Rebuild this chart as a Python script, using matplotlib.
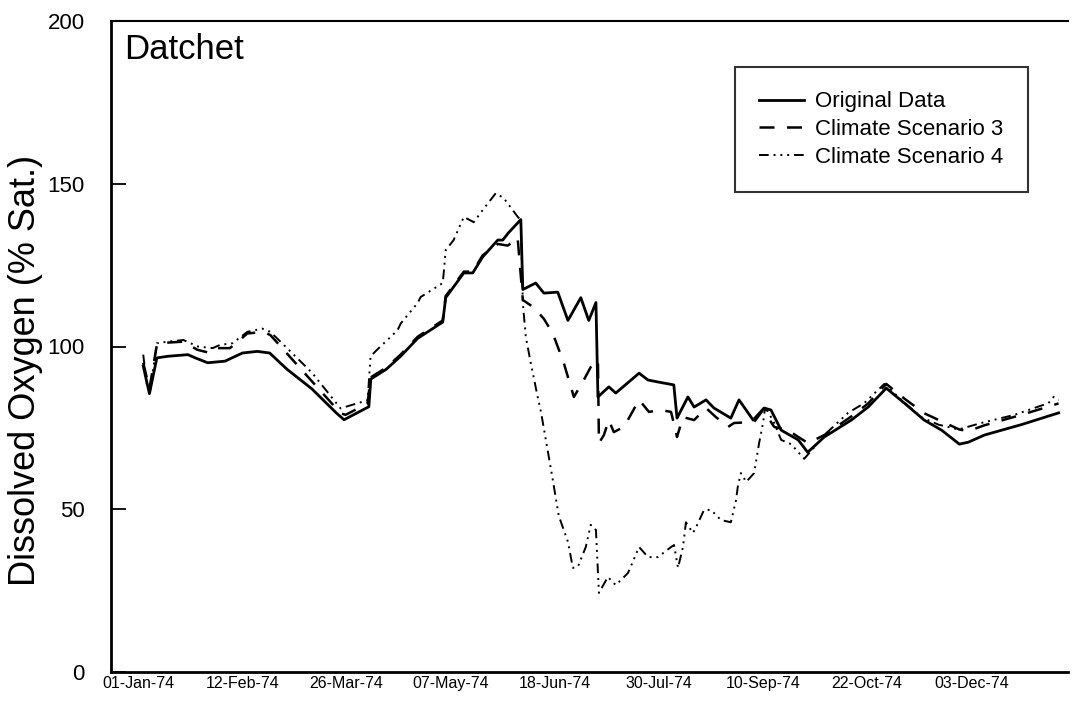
import datetime as dt
import matplotlib
matplotlib.use('Agg')
import matplotlib.pyplot as plt

# Days counted from 01-Jan-74, values in % saturation
orig_days = [2, 4.5, 7.5, 12, 20, 23, 28, 35, 42, 48, 53, 60, 70, 80, 83, 93, 93.8, 100, 105.8,
             112.7, 122.8, 124, 131.3, 134.9, 138.9, 145, 147, 149.4, 154.3, 155.1, 160.3, 163.6,
             169.2, 173.3, 178.5, 181.7, 184.6, 185.4, 189.8, 192.6, 202, 205.6, 209.6, 216, 217.3,
             221.7, 224.2, 229, 232.2, 239, 242.3, 248, 252.4, 255.2, 259.3, 266.2, 270, 276.7,
             287.6, 294.4, 301.7, 309, 317, 324, 331.2, 334.8, 341.3, 356.2, 371.2]
orig_vals = [94, 85.5, 96.5, 97, 97.5, 96.5, 95, 95.5, 98, 98.5, 98, 93, 87, 79.5, 77.5, 81.5, 90,
             93, 97, 102.5, 107.5, 115, 122.6, 122.6, 127.5, 132.7, 132.7, 135, 139, 117.5, 119.5,
             116.4, 116.7, 108, 115, 108, 113.5, 84.5, 87.6, 85.7, 91.8, 89.7, 89.1, 88.2, 78, 84.5,
             81.4, 83.6, 81.1, 78, 83.6, 77.4, 81.1, 80.5, 74.3, 71.3, 67.5, 72.2, 77.4, 81.4, 87.2,
             82.6, 77.4, 74.3, 70, 70.6, 72.8, 76, 79.6]

scen3_days = [2, 4.5, 7.5, 8, 18.2, 23.8, 29, 32, 37, 44, 50.5, 53.3, 81.6, 83.6, 92.5, 93.7, 100,
              105.8, 112.7, 122.8, 124, 131.3, 134.9, 138.9, 145, 149, 151.8, 153, 155.1, 159.5,
              163.6, 167.2, 171.6, 175.7, 179.7, 182.5, 185.4, 185.8, 187.8, 189.8, 191.8, 195.9,
              202, 206, 210.8, 214.9, 217.3, 219.7, 224.2, 229, 233, 237.9, 240.3, 248.4, 252,
              256.5, 262.1, 266.2, 270.2, 276.7, 287.6, 294.4, 301.7, 309, 317, 324, 331.2, 334.8,
              341.3, 356.2, 371.2]
scen3_vals = [95, 87, 100.5, 101, 101.5, 99, 98, 99.5, 99.5, 104, 104.5, 103.5, 79.5, 79, 82.5,
              90.5, 93.5, 97.5, 103, 108, 115.5, 123, 123, 128, 131.5, 131, 132.5, 133.5, 114.3,
              112, 108.5, 104, 95, 84.5, 89.7, 93.7, 95.8, 70.3, 72.8, 77.4, 73.7, 75.3, 83.6, 79.9,
              80.5, 79.9, 72.2, 78.3, 77.4, 81.1, 78.3, 75.3, 76.5, 76.8, 80.5, 75.3, 74.3, 72.2,
              70.3, 72.8, 78.5, 82.5, 88.5, 84, 79.5, 77, 74.5, 74, 75.8, 79, 82.5]

scen4_days = [2, 3.5, 4.8, 7.5, 12, 18.2, 24, 30, 33, 38, 44, 50, 53.3, 60, 70, 81.6, 92.5, 93.7,
              97, 104.6, 105.8, 112.7, 113.9, 122.8, 123.2, 124, 127.2, 131.3, 135.3, 138.9, 144.2,
              147.4, 153.1, 154.3, 155.1, 156.3, 158.3, 161.1, 162.4, 164.4, 167.2, 169.6, 173.3,
              175.3, 177.3, 180.5, 182.5, 184.6, 185.8, 189.4, 192.6, 197.5, 202, 205.6, 209.6,
              214.9, 216.1, 217.7, 219.7, 220.9, 223.7, 225, 228.2, 231, 235, 239, 241.1, 241.9,
              243.1, 245.2, 248.4, 250.4, 252, 252.8, 254, 256.5, 259.3, 263.3, 268.6, 272.6,
              276.7, 286.3, 292.8, 300.9, 307.8, 315.8, 322.7, 330.8, 340, 353.4, 367.1, 369.2,
              371.2]
scen4_vals = [97.5, 88, 86.5, 101, 101.5, 102, 100, 99.5, 100.5, 101, 104.5, 105.5, 104.5, 99.5,
              92, 81, 83.5, 97, 99.5, 105, 107, 113.4, 115.2, 119.5, 122.6, 129.6, 132.7, 139.8,
              138.2, 141.9, 147.1, 145.6, 139.8, 138.9, 113.4, 103, 95, 84.5, 80, 71.3, 59, 48, 40,
              32, 32.3, 38.4, 45.2, 43.6, 24.3, 29.2, 26.7, 30.4, 38.4, 35.3, 35.3, 38.4, 39, 32,
              38.4, 46, 42.7, 44.5, 49.8, 49.8, 46.7, 46, 52.8, 57.4, 61.1, 58.4, 61.1, 70.3, 76.5,
              81, 80, 76.5, 71.3, 70, 65.5, 69, 72.8, 79.6, 82.6, 88.5, 83.6, 78.3, 76, 74.5, 76.5,
              79, 82.6, 84.5, 83.5]

tick_days = [0, 42, 84, 126, 168, 210, 252, 294, 336]
y_ticks = [0, 50, 100, 150, 200]

start = dt.date(1974, 1, 1)
tick_labels = [(start + dt.timedelta(days=d)).strftime('%d-%b-%y') for d in tick_days]

plt.rcParams['font.family'] = ['Liberation Sans', 'DejaVu Sans']

fig = plt.figure(figsize=(10.81, 7.05), dpi=100)
ax = fig.add_axes([111 / 1081, 33 / 705, (1068 - 111) / 1081, (672 - 21) / 705])

# Three series, all black, told apart by line style
ax.plot(orig_days, orig_vals, color='black', lw=2.0, label='Original Data')
ax.plot(scen3_days, scen3_vals, color='black', lw=1.8, linestyle=(0, (6, 5)),
        label='Climate Scenario 3')
ax.plot(scen4_days, scen4_vals, color='black', lw=1.4,
        linestyle=(0, (5, 2.5, 1, 2.5, 1, 2.5, 1, 2.5)), label='Climate Scenario 4')

# Axes limits and ticks
ax.set_xlim(-11, 375)
ax.set_ylim(0, 200)
ax.set_yticks(y_ticks)
ax.set_xticks(tick_days)
ax.set_xticklabels(tick_labels)
ax.tick_params(axis='y', direction='in', length=11, width=1.3, labelsize=16, pad=19)
ax.tick_params(axis='x', length=0, labelsize=11.5, pad=3)

# Frame: heavy left/bottom, thinner top, no right side
ax.spines['right'].set_visible(False)
ax.spines['left'].set_linewidth(2)
ax.spines['bottom'].set_linewidth(2)
ax.spines['top'].set_linewidth(1.5)

# Site name and y label
ax.text(0.014, 0.982, 'Datchet', transform=ax.transAxes, ha='left', va='top', fontsize=25)
fig.text(26 / 1081, 1 - 370 / 705, 'Dissolved Oxygen (% Sat.)', rotation=90,
         ha='center', va='center', fontsize=26)

# Legend box in the upper right
legend = ax.legend(loc='upper left', bbox_to_anchor=(735 / 1081, 1 - 67 / 705),
                   bbox_transform=fig.transFigure, fontsize=16, frameon=True, fancybox=False,
                   borderaxespad=0, handlelength=2.0, handletextpad=0.5, labelspacing=0.3,
                   borderpad=1.1)
legend.get_frame().set_edgecolor('black')
legend.get_frame().set_linewidth(1.5)

fig.savefig('out.png', dpi=100)
